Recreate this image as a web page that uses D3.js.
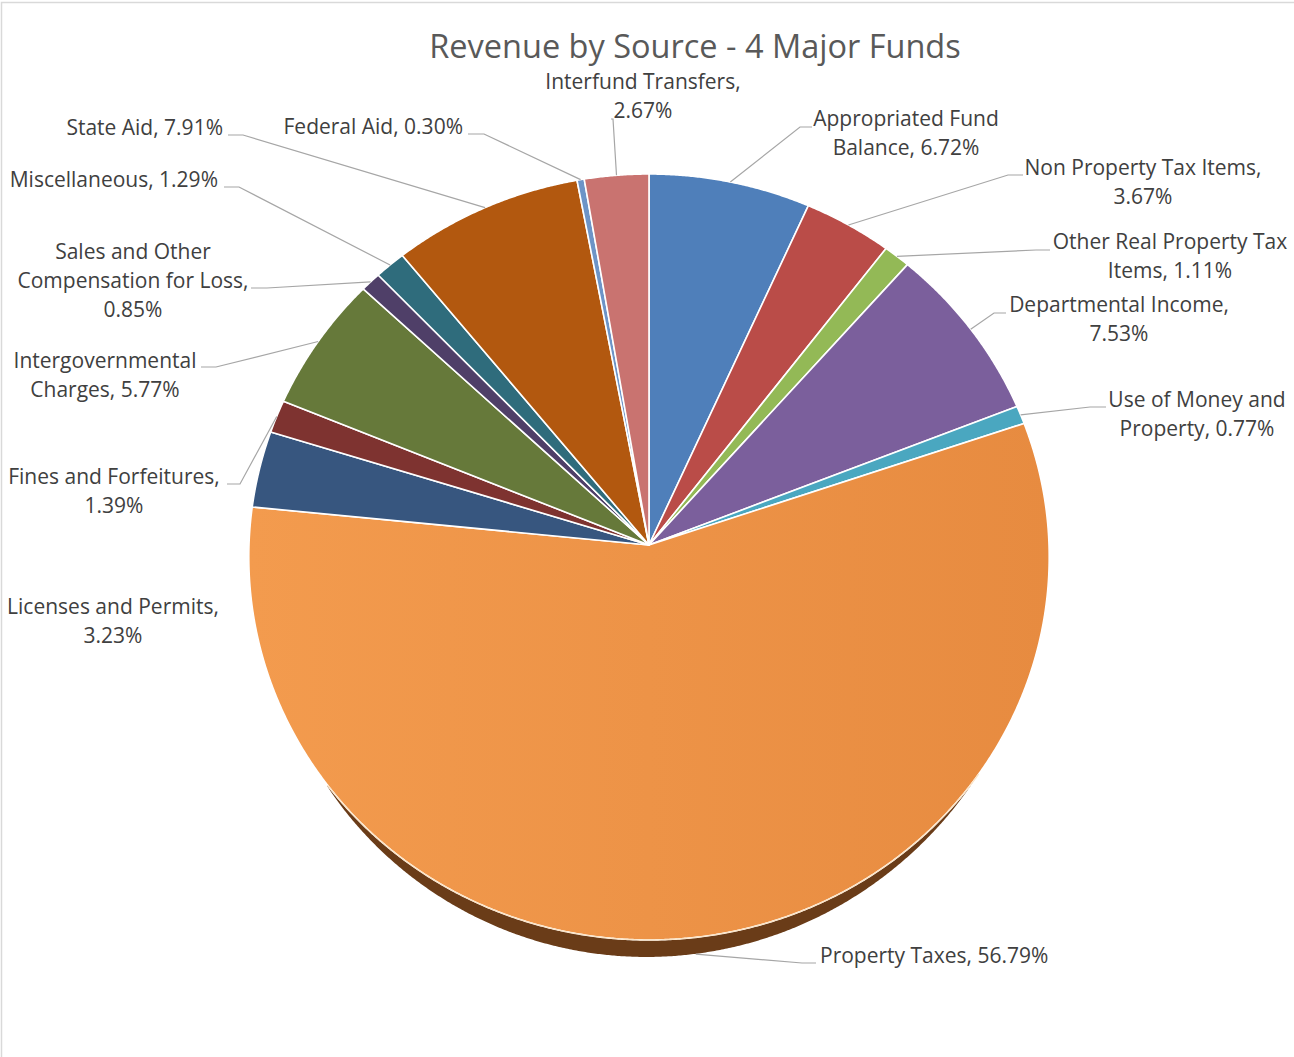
<!DOCTYPE html>
<html>
<head>
<meta charset="utf-8">
<script src="https://cdn.jsdelivr.net/npm/d3@7"></script>
<style>
  html, body { margin: 0; padding: 0; background: #ffffff; }
  svg { display: block; }
  text { font-family: "Open Sans", Lato, sans-serif; }
</style>
</head>
<body>
<svg id="chart" width="1294" height="1057"></svg>
<script>
// Revenue shares by source, clockwise from 12 o'clock
const categories = [
  "Appropriated Fund Balance",
  "Non Property Tax Items",
  "Other Real Property Tax Items",
  "Departmental Income",
  "Use of Money and Property",
  "Property Taxes",
  "Licenses and Permits",
  "Fines and Forfeitures",
  "Intergovernmental Charges",
  "Sales and Other Compensation for Loss",
  "Miscellaneous",
  "State Aid",
  "Federal Aid",
  "Interfund Transfers"
];
const shares = [6.72, 3.67, 1.11, 7.53, 0.77, 56.79, 3.23, 1.39, 5.77, 0.85, 1.29, 7.91, 0.30, 2.67];
const sliceColors = [
  "#4f7fba", "#ba4c48", "#93b956", "#7b5f9c", "#4aa7c0", "#ee9147",
  "#37567f", "#7e3330", "#66793a", "#4f3f68", "#2f6c7c", "#b2580f",
  "#6d94c7", "#c97370"
];
const chartTitle = "Revenue by Source - 4 Major Funds";

// Label placement: text anchor point, word counts per line, leader elbow and stub end
const labelLayout = [
  { x: 906,  y: 126, anchor: "middle", words: [2, 2], elbow: [800, 127], stub: [812, 127] },
  { x: 1143, y: 175, anchor: "middle", words: [4, 1], elbow: [1008, 175], stub: [1023, 175] },
  { x: 1170, y: 249, anchor: "middle", words: [4, 2], elbow: [1036, 250], stub: [1050, 250] },
  { x: 1119, y: 312, anchor: "middle", words: [2, 1], elbow: [994, 313], stub: [1006, 313] },
  { x: 1197, y: 407, anchor: "middle", words: [4, 2], elbow: [1090, 407], stub: [1106, 407] },
  { x: 820,  y: 963, anchor: "start",  words: [3],    elbow: [802, 963], stub: [816, 963] },
  { x: 113,  y: 614, anchor: "middle", words: [3, 1], elbow: null, stub: null },
  { x: 114,  y: 484, anchor: "middle", words: [3, 1], elbow: [240, 484], stub: [227, 484] },
  { x: 105,  y: 368, anchor: "middle", words: [1, 2], elbow: [216, 367], stub: [201, 367] },
  { x: 133,  y: 259, anchor: "middle", words: [3, 3, 1], elbow: [267, 288], stub: [251, 288] },
  { x: 218,  y: 187, anchor: "end",    words: [2],    elbow: [239, 187], stub: [224, 187] },
  { x: 223,  y: 135, anchor: "end",    words: [3],    elbow: [243, 135], stub: [228, 135] },
  { x: 463,  y: 134, anchor: "end",    words: [3],    elbow: [484, 134], stub: [468, 134] },
  { x: 643,  y: 89,  anchor: "middle", words: [2, 1], elbow: [613, 119], stub: [611, 119] }
];

const svg = d3.select("#chart");
const W = 1294, H = 1057;

// Chart frame
svg.append("rect")
  .attr("x", 1.5).attr("y", 2.5).attr("width", W + 10).attr("height", H + 10)
  .attr("fill", "#ffffff").attr("stroke", "#d9d9d9").attr("stroke-width", 1.5);

// Slightly tilted disc, seen in perspective
const cx = 649, cy = 545, R = 400, Rv = 382.6, persp = 0.0313;
function project(theta, r) {
  const u = r * Math.sin(theta), v = -r * Math.cos(theta);
  const k = 1 / (1 - persp * v);
  return [cx + R * u * k, cy + Rv * v * k];
}

const pie = d3.pie().sort(null).value(d => d.value);
const data = categories.map((c, i) => ({ name: c, value: shares[i], color: sliceColors[i], layout: labelLayout[i] }));
const arcs = pie(data);

const line = d3.line().curve(d3.curveLinear);
const step = Math.PI / 720;
function slicePath(a0, a1) {
  const pts = [[cx, cy]];
  const n = Math.max(2, Math.ceil((a1 - a0) / step));
  for (let i = 0; i <= n; i++) pts.push(project(a0 + (a1 - a0) * i / n, 1));
  return line(pts) + "Z";
}

// Depth band visible along the front edge
const bandStart = 126 * Math.PI / 180, bandEnd = 232 * Math.PI / 180, bandDepth = 17;
function bandOffset(theta) {
  const t = (-Math.cos(theta) - 0.6) / 0.4;
  return t <= 0 ? 0 : bandDepth * Math.pow(Math.min(1, t), 0.8);
}
const edgePts = d3.range(bandStart, bandEnd + step, step).map(a => project(a, 1));
const lowPts = d3.range(bandStart, bandEnd + step, step).map(a => {
  const p = project(a, 1);
  return [p[0] - bandOffset(a) * 0.15, p[1] + bandOffset(a)];
});
svg.append("path")
  .attr("d", line(lowPts.concat(edgePts.slice().reverse())) + "Z")
  .attr("fill", "#6a3c18");

const defs = svg.append("defs");
const grad = defs.append("linearGradient").attr("id", "mainGrad")
  .attr("x1", "0%").attr("y1", "0%").attr("x2", "100%").attr("y2", "0%");
grad.append("stop").attr("offset", "0%").attr("stop-color", "#f39b4e");
grad.append("stop").attr("offset", "100%").attr("stop-color", "#e78b40");

svg.append("g").selectAll("path")
  .data(arcs)
  .join("path")
  .attr("d", d => slicePath(d.startAngle, d.endAngle))
  .attr("fill", d => d.data.name === "Property Taxes" ? "url(#mainGrad)" : d.data.color)
  .attr("stroke", "#ffffff")
  .attr("stroke-width", 1.6)
  .attr("stroke-linejoin", "round");

// light rim along the front edge
svg.append("path")
  .attr("d", line(edgePts))
  .attr("fill", "none").attr("stroke", "#fbe3c4").attr("stroke-width", 1.2);

// Title
svg.append("text")
  .attr("x", 695).attr("y", 57.5)
  .attr("text-anchor", "middle")
  .attr("font-size", 32.5)
  .attr("fill", "#595959")
  .text(chartTitle);

// Leader lines
const leaders = svg.append("g").attr("fill", "none").attr("stroke", "#a6a6a6").attr("stroke-width", 1.2);
arcs.forEach(d => {
  const L = d.data.layout;
  if (!L.elbow) return;
  const mid = (d.startAngle + d.endAngle) / 2;
  let p = project(mid, 1);
  if (mid > bandStart && mid < bandEnd) p = [p[0], p[1] + bandOffset(mid)];
  leaders.append("path").attr("d", line([p, L.elbow, L.stub]));
});

// Data labels
const labels = svg.append("g").attr("fill", "#404040").attr("font-size", 21);
arcs.forEach(d => {
  const L = d.data.layout;
  const words = (d.data.name + ", " + d3.format(".2f")(d.data.value) + "%").split(" ");
  const lines = [];
  let idx = 0;
  L.words.forEach(n => { lines.push(words.slice(idx, idx + n).join(" ")); idx += n; });
  const t = labels.append("text").attr("text-anchor", L.anchor);
  lines.forEach((s, i) => {
    t.append("tspan").attr("x", L.x).attr("y", L.y + i * 29).text(s);
  });
});
</script>
</body>
</html>
